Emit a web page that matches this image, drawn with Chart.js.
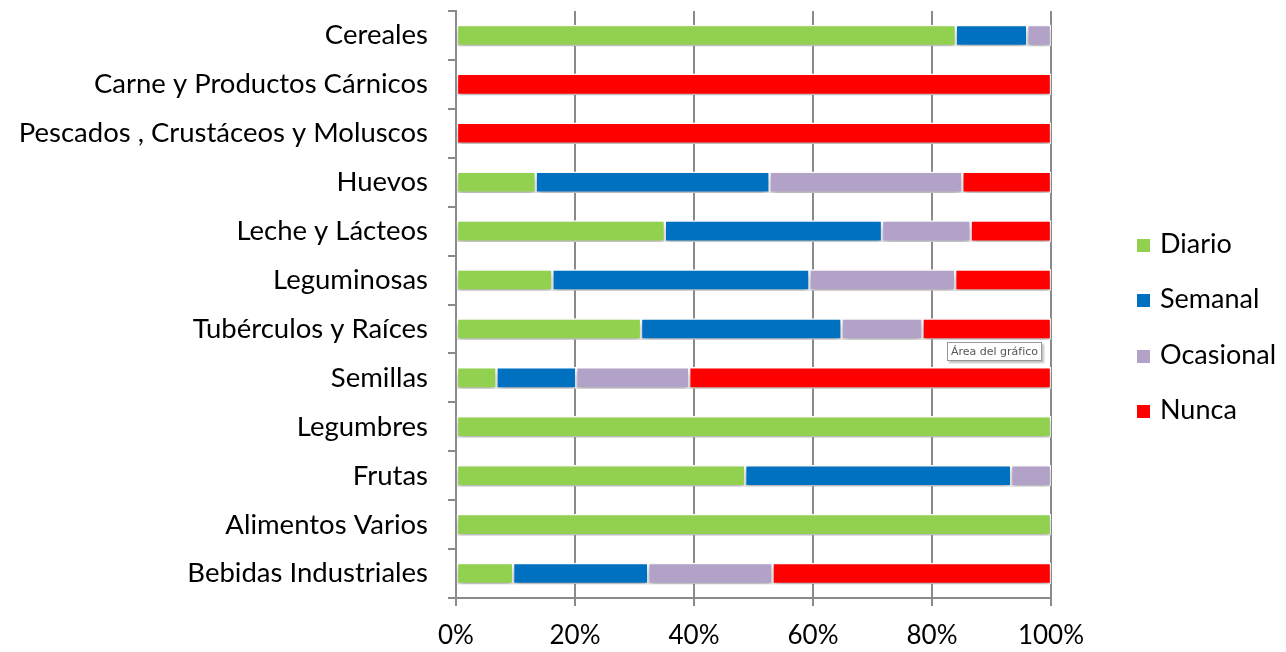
<!DOCTYPE html>
<html lang="es">
<head>
<meta charset="UTF-8">
<title>Frecuencia de consumo</title>
<script src="https://cdn.jsdelivr.net/npm/chart.js"></script>
<style>
  body { margin: 0; background: #fff; font-family: Lato, "Open Sans", sans-serif; }
  #wrap { position: relative; width: 1286px; height: 652px; }
  .leg { position: absolute; left: 1137px; font-size: 27px; color: #000; line-height: 30px; }
  .leg span { display: inline-block; width: 13px; height: 13px; margin-right: 10px; vertical-align: 1px; }
  #tip { position: absolute; left: 947px; top: 342px; font: 11px "DejaVu Sans", sans-serif; color: #555;
         border: 1px solid #999; background: #fff; padding: 2px 3px; box-shadow: 2px 2px 2px rgba(0,0,0,0.25); }
</style>
</head>
<body>
<div id="wrap">
  <canvas id="chart" width="1286" height="652"></canvas>
  <div id="legend"></div>
  <div id="tip">Área del gráfico</div>
</div>
<script>
var categorias = ["Cereales", "Carne y Productos Cárnicos", "Pescados , Crustáceos y Moluscos", "Huevos",
  "Leche y Lácteos", "Leguminosas", "Tubérculos y Raíces", "Semillas", "Legumbres", "Frutas",
  "Alimentos Varios", "Bebidas Industriales"];
var diario    = [84,   0,   0, 13.4, 35.1, 16.2, 31.1,  6.8, 100, 48.6, 100,  9.6];
var semanal   = [12,   0,   0, 39.3, 36.5, 43.2, 33.7, 13.4,   0, 44.7,   0, 22.7];
var ocasional = [ 4,   0,   0, 32.4, 14.9, 24.5, 13.6, 19.0,   0,  6.7,   0, 20.9];
var nunca     = [ 0, 100, 100, 14.9, 13.5, 16.1, 21.6, 60.8,   0,  0,    0, 46.8];
var series = ["Diario", "Semanal", "Ocasional", "Nunca"];
var colores = ["#92D050", "#0070C0", "#B3A2C7", "#FF0000"];
var xTicks = [0, 20, 40, 60, 80, 100];

Chart.defaults.font.family = "Lato, 'Open Sans', sans-serif";
Chart.defaults.color = "#000";

var valores = [diario, semanal, ocasional, nunca];
var datasets = series.map(function (s, i) {
  return {
    label: s,
    data: valores[i],
    backgroundColor: colores[i],
    borderColor: "#fff",
    borderWidth: 1.5,
    borderSkipped: false,
    barThickness: 21
  };
});

// sombra bajo las barras
var sombra = {
  id: "sombra",
  beforeDatasetsDraw: function (chart) {
    var ctx = chart.ctx;
    ctx.save();
    ctx.shadowColor = "rgba(0,0,0,0.3)";
    ctx.shadowBlur = 6;
    ctx.shadowOffsetY = 4;
  },
  afterDatasetsDraw: function (chart) {
    chart.ctx.restore();
  }
};

new Chart(document.getElementById("chart"), {
  type: "bar",
  data: { labels: categorias, datasets: datasets },
  plugins: [sombra],
  options: {
    indexAxis: "y",
    responsive: false,
    animation: false,
    layout: { padding: { top: 11, right: 235, left: 0, bottom: 0 } },
    plugins: { legend: { display: false }, tooltip: { enabled: false } },
    scales: {
      x: {
        stacked: true,
        min: 0, max: 100,
        afterBuildTicks: function (s) { s.ticks = xTicks.map(function (v) { return { value: v }; }); },
        afterFit: function (s) { s.height = 54; },
        ticks: { callback: function (v) { return v + "%"; }, font: { size: 26 }, padding: 14, maxRotation: 0 },
        grid: { color: "#8a8a8a", lineWidth: 2, tickLength: 8 },
        border: { color: "#8a8a8a", width: 2 }
      },
      y: {
        stacked: true,
        afterFit: function (s) { s.width = 456; s.paddingTop = 0; s.paddingBottom = 0; },
        ticks: { font: { size: 27.5 }, padding: 20 },
        grid: { offset: true, drawOnChartArea: false, color: "#8a8a8a", lineWidth: 2, tickLength: 8 },
        border: { color: "#8a8a8a", width: 2 }
      }
    }
  }
});

var legTop = [228, 283, 339, 394];
var leg = document.getElementById("legend");
series.forEach(function (s, i) {
  var d = document.createElement("div");
  d.className = "leg";
  d.style.top = legTop[i] + "px";
  d.innerHTML = '<span style="background:' + colores[i] + '"></span>' + s;
  leg.appendChild(d);
});
</script>
</body>
</html>
